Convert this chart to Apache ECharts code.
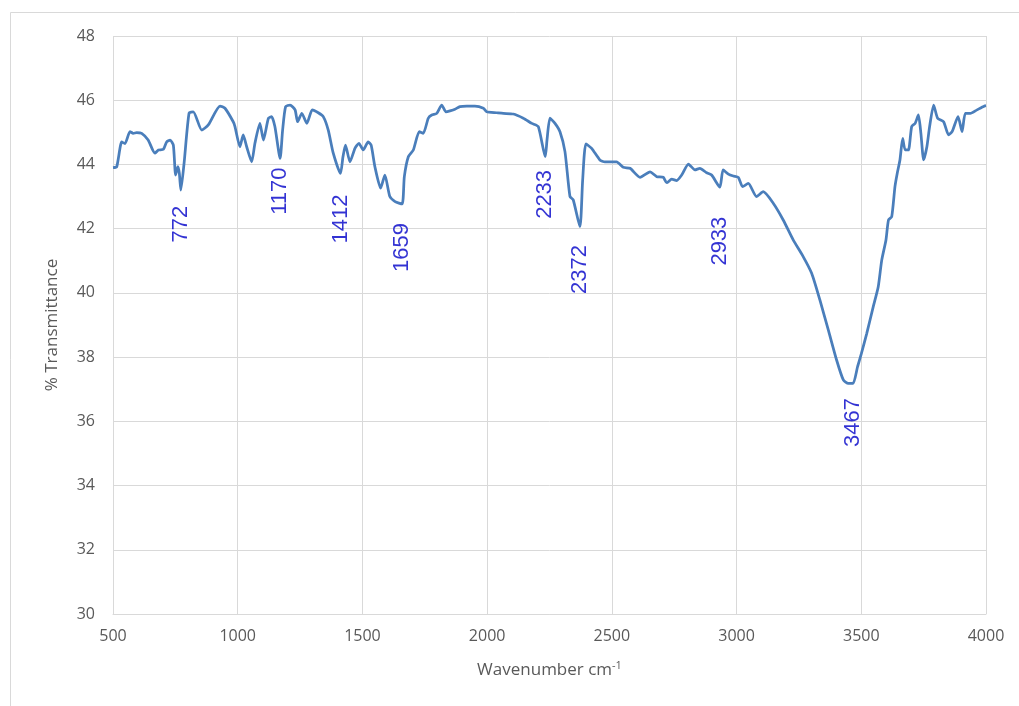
<!DOCTYPE html>
<html>
<head>
<meta charset="utf-8">
<script src="https://cdn.jsdelivr.net/npm/echarts@6/dist/echarts.min.js"></script>
<style>
  html, body { margin: 0; padding: 0; background: #ffffff; }
  #chart { width: 1019px; height: 706px; }
</style>
</head>
<body>
<div id="chart"></div>
<script>
// FTIR spectrum: wavenumber (cm-1) against % transmittance
const wavenumbers = [
  500, 515, 535, 548, 568, 581, 595, 615, 641, 668, 682, 702, 715, 729, 742,
  751, 760, 766, 772, 785, 805, 822, 856, 882, 929, 949, 982, 989, 1009, 1022,
  1036, 1056, 1069, 1089, 1103, 1123, 1136, 1149, 1170, 1180, 1192, 1210, 1230,
  1240, 1257, 1277, 1299, 1323, 1343, 1363, 1383, 1412, 1422, 1432, 1450, 1470,
  1486, 1503, 1523, 1535, 1550, 1573, 1590, 1610, 1631, 1659, 1668, 1684, 1704,
  1728, 1744, 1764, 1778, 1798, 1818, 1835, 1851, 1871, 1891, 1918, 1951, 1985,
  1998, 2038, 2065, 2105, 2145, 2179, 2205, 2233, 2240, 2252, 2272, 2292, 2312,
  2332, 2345, 2372, 2383, 2396, 2419, 2452, 2472, 2519, 2546, 2573, 2613, 2653,
  2680, 2706, 2720, 2740, 2760, 2780, 2807, 2833, 2853, 2880, 2900, 2933, 2946,
  2967, 2987, 3007, 3024, 3047, 3080, 3107, 3147, 3187, 3227, 3267, 3301, 3334,
  3368, 3401, 3428, 3448, 3467, 3485, 3500, 3522, 3548, 3568, 3582, 3599, 3609,
  3622, 3635, 3644, 3655, 3666, 3676, 3689, 3702, 3716, 3729, 3739, 3750, 3763,
  3774, 3790, 3806, 3830, 3850, 3864, 3888, 3904, 3917, 3937, 3964, 3994, 4000
];
const transmittance = [
  43.90, 43.93, 44.70, 44.65, 45.02, 44.97, 44.99, 44.97, 44.76, 44.35, 44.45, 44.47, 44.70, 44.76, 44.60,
  43.67, 43.93, 43.72, 43.20, 44.04, 45.60, 45.64, 45.07, 45.23, 45.82, 45.75, 45.33, 45.18, 44.55, 44.92,
  44.55, 44.08, 44.66, 45.28, 44.76, 45.44, 45.49, 45.18, 44.19, 45.07, 45.80, 45.85, 45.70,
  45.33, 45.59, 45.28, 45.70, 45.61, 45.49, 45.07, 44.35, 43.72, 44.24, 44.60, 44.08, 44.50,
  44.66, 44.45, 44.70, 44.60, 43.93, 43.26, 43.67, 43.00, 42.84, 42.77, 43.62, 44.24, 44.45,
  45.02, 44.97, 45.44, 45.54, 45.59, 45.85, 45.64, 45.67, 45.72, 45.80, 45.82, 45.82, 45.75,
  45.64, 45.61, 45.59, 45.57, 45.44, 45.28, 45.18, 44.24, 44.76, 45.44, 45.28, 45.02, 44.40,
  43.00, 42.90, 42.06, 43.52, 44.64, 44.50, 44.14, 44.08, 44.08, 43.91, 43.88, 43.60, 43.77,
  43.62, 43.60, 43.43, 43.54, 43.50, 43.67, 44.01, 43.83, 43.88, 43.74, 43.67, 43.29, 43.83,
  43.70, 43.64, 43.60, 43.31, 43.41, 43.00, 43.15, 42.79, 42.27, 41.65, 41.13, 40.61, 39.78,
  38.84, 37.91, 37.29, 37.18, 37.18, 37.70, 38.10, 38.74, 39.57, 40.19, 41.02, 41.65, 42.27,
  42.37, 43.31, 43.72, 44.14, 44.81, 44.45, 44.45, 45.18, 45.28, 45.54, 44.97, 44.14, 44.55,
  45.18, 45.85, 45.44, 45.33, 44.92, 45.02, 45.49, 45.02, 45.59, 45.59, 45.70, 45.82, 45.83
];

// Annotated band positions and the height at which each label is centred
const peakWavenumbers = [772, 1170, 1412, 1659, 2233, 2372, 2933, 3467];
const peakLabelLevels = [42.08, 43.17, 42.49, 41.57, 43.13, 40.79, 41.83, 36.12];
const peakLabelShift = [2, 0, -6, -5, -2, -2, -7, -5];

const yTicks = { min: 30, max: 48, step: 2 };
const xTicks = { min: 500, max: 4000, step: 500 };

const spectrum = wavenumbers.map((w, i) => [w, transmittance[i]]);
const peakLabels = peakWavenumbers.map((w, i) => ({
  value: [w, peakLabelLevels[i]],
  label: { offset: [peakLabelShift[i], 0] }
}));

const chart = echarts.init(document.getElementById('chart'), null, { renderer: 'canvas' });
const tickFont = 'Open Sans';
chart.setOption({
  animation: false,
  backgroundColor: '#ffffff',
  graphic: [{
    type: 'rect',
    left: 8, top: 10,
    shape: { x: 0, y: 0, width: 1030, height: 720 },
    style: { fill: 'none', stroke: '#d9d9d9', lineWidth: 1 },
    silent: true, z: -1
  }],
  grid: { left: 113, right: 33, top: 36, bottom: 92 },
  xAxis: {
    type: 'value',
    min: xTicks.min, max: xTicks.max, interval: xTicks.step,
    name: 'Wavenumber cm{sup|-1}',
    nameLocation: 'middle',
    nameGap: 46,
    nameTextStyle: {
      color: '#595959', fontSize: 17, fontFamily: tickFont,
      rich: { sup: { fontSize: 11, color: '#595959', fontFamily: tickFont, verticalAlign: 'top', padding: [0, 0, 9, 0] } }
    },
    axisLine: { show: true, lineStyle: { color: '#d9d9d9', width: 1 } },
    axisTick: { show: false },
    axisLabel: { color: '#595959', fontSize: 16, fontFamily: tickFont, margin: 14, formatter: (v) => String(v) },
    splitLine: { show: true, lineStyle: { color: '#d9d9d9', width: 1 } }
  },
  yAxis: {
    type: 'value',
    min: yTicks.min, max: yTicks.max, interval: yTicks.step,
    name: '% Transmittance',
    nameLocation: 'middle',
    nameGap: 52,
    nameTextStyle: { color: '#595959', fontSize: 17, fontFamily: tickFont },
    axisLine: { show: false },
    axisTick: { show: false },
    axisLabel: { color: '#595959', fontSize: 16, fontFamily: tickFont, margin: 18 },
    splitLine: { show: true, lineStyle: { color: '#d9d9d9', width: 1 } }
  },
  series: [
    {
      type: 'line',
      data: spectrum,
      showSymbol: false,
      smooth: 0.2,
      lineStyle: { color: '#4a7ebb', width: 2.75 },
      z: 3
    },
    {
      type: 'scatter',
      data: peakLabels,
      symbolSize: 0,
      silent: true,
      label: {
        show: true,
        position: 'inside',
        rotate: 90,
        formatter: (p) => String(p.value[0]),
        color: '#0000c8',
        fontSize: 22,
        fontFamily: 'Liberation Sans',
        align: 'center',
        verticalAlign: 'middle'
      },
      z: 4
    }
  ]
});
</script>
</body>
</html>
